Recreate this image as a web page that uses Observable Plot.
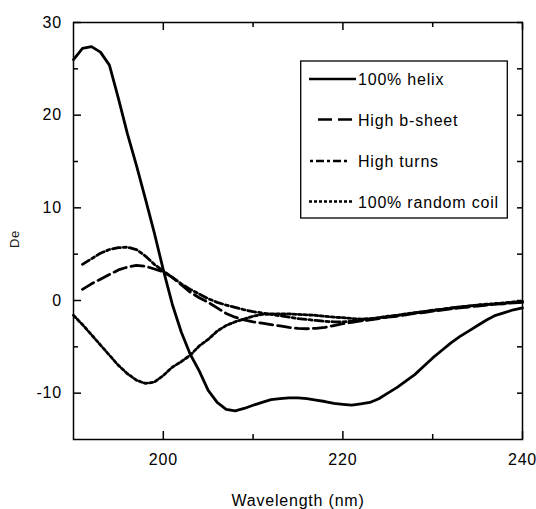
<!DOCTYPE html>
<html><head><meta charset="utf-8">
<script src="https://cdn.jsdelivr.net/npm/d3@7"></script>
<script src="https://cdn.jsdelivr.net/npm/@observablehq/plot@0.6"></script>
<style>
body{margin:0;background:#fff;}
#chart svg text{letter-spacing:0.8px;}
</style>
</head><body><div id="chart"></div>
<script>
const wavelength = [190,191,192,193,194,195,196,197,198,199,200,201,202,203,204,205,206,207,208,209,210,211,212,213,214,215,216,217,218,219,220,221,222,223,224,225,226,227,228,229,230,231,232,233,234,235,236,237,238,239,240];
const helix = [26.0,27.2,27.4,26.8,25.4,21.8,18.0,14.6,11.0,7.3,3.3,-0.4,-3.4,-5.8,-7.6,-9.7,-11.0,-11.75,-11.9,-11.65,-11.3,-11.0,-10.7,-10.6,-10.5,-10.5,-10.6,-10.75,-10.9,-11.1,-11.2,-11.3,-11.15,-11.0,-10.6,-10.0,-9.4,-8.7,-8.0,-7.1,-6.2,-5.4,-4.6,-3.9,-3.3,-2.7,-2.1,-1.6,-1.3,-1.0,-0.8];
const betaSheet = [null,1.2,1.8,2.3,2.8,3.3,3.6,3.8,3.7,3.4,3.1,2.5,1.7,0.9,0.3,-0.2,-0.8,-1.4,-1.8,-2.1,-2.3,-2.45,-2.6,-2.75,-2.9,-3.0,-3.05,-3.0,-2.9,-2.7,-2.5,-2.35,-2.2,-2.1,-1.95,-1.8,-1.7,-1.55,-1.4,-1.3,-1.15,-1.05,-0.9,-0.8,-0.7,-0.6,-0.5,-0.4,-0.35,-0.25,-0.2];
const turns = [null,3.9,4.5,5.1,5.5,5.7,5.75,5.5,4.8,3.9,3.2,2.5,1.8,1.2,0.7,0.2,-0.2,-0.5,-0.75,-1.0,-1.2,-1.35,-1.5,-1.65,-1.8,-1.95,-2.05,-2.15,-2.25,-2.3,-2.3,-2.25,-2.15,-2.05,-1.9,-1.75,-1.6,-1.5,-1.35,-1.2,-1.1,-0.95,-0.8,-0.7,-0.6,-0.5,-0.45,-0.35,-0.3,-0.2,-0.1];
const randomCoil = [-1.6,-2.6,-3.7,-4.8,-5.9,-7.0,-7.9,-8.6,-8.95,-8.8,-8.1,-7.2,-6.6,-5.9,-4.9,-4.2,-3.3,-2.7,-2.3,-2.0,-1.7,-1.5,-1.45,-1.45,-1.45,-1.5,-1.55,-1.6,-1.7,-1.8,-1.85,-1.95,-2.0,-1.95,-1.85,-1.7,-1.6,-1.45,-1.3,-1.2,-1.05,-0.95,-0.85,-0.7,-0.6,-0.5,-0.4,-0.35,-0.25,-0.15,-0.1];

const seriesNames = ["100% helix", "High b-sheet", "High turns", "100% random coil"];
const seriesDash = [null, "13,5", "8,3,3,3", "3,2.5"];

const xMajorTicks = [200, 220, 240];
const xMinorTicks = [210, 230];
const yMajorTicks = [-10, 0, 10, 20, 30];
const yMinorTicks = [-5, 5, 15, 25];
const xTitle = "Wavelength (nm)";
const yTitle = "De";

const seriesValues = [helix, betaSheet, turns, randomCoil];
const rows = [];
seriesNames.forEach((name, s) => {
  wavelength.forEach((w, i) => rows.push({series: name, w, v: seriesValues[s][i]}));
});

const W = 536, H = 509;
const fmt = d => String(d);
const plot = Plot.plot({
  width: W, height: H,
  marginLeft: 73, marginRight: 14, marginTop: 22, marginBottom: 70,
  style: {fontFamily: "'Liberation Sans', Arial, sans-serif", fontSize: "16px", background: "white", color: "black"},
  x: {domain: [190, 240], label: null},
  y: {domain: [-15, 30], label: null},
  marks: [
    ...seriesNames.map((name, s) => Plot.line(rows.filter(r => r.series === name), {
      x: "w", y: "v", stroke: "black", strokeWidth: 2.8,
      strokeDasharray: seriesDash[s] || undefined, strokeLinejoin: "round"
    })),
    Plot.axisX(xMajorTicks, {anchor: "bottom", tickSize: -8, tickPadding: 22, tickFormat: fmt, label: null, strokeWidth: 1.5}),
    Plot.axisX(xMinorTicks, {anchor: "bottom", tickSize: -5, tickFormat: () => "", label: null, strokeWidth: 1.5}),
    Plot.axisX(xMajorTicks, {anchor: "top", tickSize: -7, tickFormat: () => "", label: null, strokeWidth: 1.5}),
    Plot.axisX(xMinorTicks, {anchor: "top", tickSize: -4, tickFormat: () => "", label: null, strokeWidth: 1.5}),
    Plot.axisY(yMajorTicks, {anchor: "left", tickSize: -8, tickPadding: 19.5, tickFormat: fmt, label: null, strokeWidth: 1.5}),
    Plot.axisY(yMinorTicks, {anchor: "left", tickSize: -5, tickFormat: () => "", label: null, strokeWidth: 1.5}),
    Plot.axisY(yMajorTicks, {anchor: "right", tickSize: -6, tickFormat: () => "", label: null, strokeWidth: 1.5}),
    Plot.axisY(yMinorTicks, {anchor: "right", tickSize: -6, tickFormat: () => "", label: null, strokeWidth: 1.5}),
    Plot.frame({stroke: "black", strokeWidth: 1.5})
  ]
});
document.getElementById("chart").appendChild(plot);

const svg = d3.select(plot);
// axis titles
svg.append("text").attr("x", 298).attr("y", 506).attr("text-anchor", "middle")
  .attr("font-size", 16).attr("fill", "black").text(xTitle);
svg.append("text").attr("transform", "translate(19,239) rotate(-90)").attr("text-anchor", "middle")
  .attr("font-size", 13).attr("fill", "#222").text(yTitle);

// legend
const lg = svg.append("g").attr("text-anchor", "start");
lg.append("rect").attr("x", 300.7).attr("y", 61).attr("width", 206.6).attr("height", 157)
  .attr("fill", "white").attr("stroke", "black").attr("stroke-width", 1.3);
const rowY = [79, 119.5, 161, 201.5];
const sampleX = [[309, 356], [318, 352], [310, 347], [309, 352]];
const legendDash = [null, "14,6", "3,3,8,3", "3,2"];
seriesNames.forEach((name, i) => {
  lg.append("line").attr("x1", sampleX[i][0]).attr("x2", sampleX[i][1])
    .attr("y1", rowY[i]).attr("y2", rowY[i]).attr("stroke", "black").attr("stroke-width", 2.5)
    .attr("stroke-dasharray", legendDash[i]);
  lg.append("text").attr("x", 358).attr("y", rowY[i] + 6).attr("font-size", 16)
    .attr("text-anchor", "start").attr("fill", "black").text(name);
});
</script>
</body></html>
